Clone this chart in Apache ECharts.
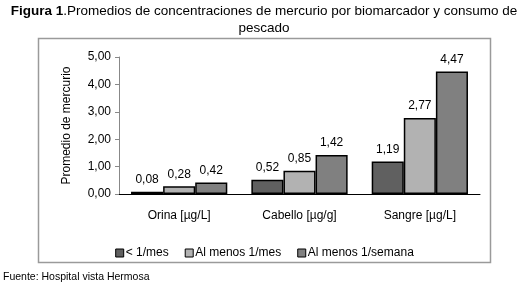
<!DOCTYPE html>
<html>
<head>
<meta charset="utf-8">
<script src="https://cdn.jsdelivr.net/npm/echarts@6/dist/echarts.min.js"></script>
<style>
  html, body { margin: 0; padding: 0; background: #fff; }
  #bar { width: 529px; height: 292px; }
</style>
</head>
<body>
<div id="bar"></div>
<script>
// datos
var categorias = ['Orina [µg/L]', 'Cabello [µg/g]', 'Sangre [µg/L]'];
var series = ['< 1/mes', 'Al menos 1/mes', 'Al menos 1/semana'];
var menosMes = [0.08, 0.52, 1.19];
var alMenosMes = [0.28, 0.85, 2.77];
var alMenosSemana = [0.42, 1.42, 4.47];
var colores = ['#606060', '#b2b2b2', '#808080'];

function coma (v) {
  return v.toFixed(2).replace('.', ',');
}

// 1. 实例化对象
const myChart = echarts.init(document.getElementById('bar'));
const fuente = 'Liberation Sans, Arial, sans-serif';

function serie (nombre, datos, idx) {
  return {
    name: nombre,
    type: 'bar',
    barGap: '0%',
    barCategoryGap: '20%',
    data: datos,
    itemStyle: {
      color: colores[idx],
      borderColor: '#000',
      borderWidth: 1.5
    },
    label: {
      show: true,
      position: 'top',
      distance: 6,
      color: '#000',
      fontSize: 12,
      fontFamily: fuente,
      formatter: function (p) { return coma(p.value); }
    }
  };
}

// 2.指定配置
const option = {
  animation: false,
  textStyle: { fontFamily: fuente },
  graphic: [
    {
      type: 'text',
      x: 264,
      y: 3,
      style: {
        text: '{b|Figura 1}.Promedios de concentraciones de mercurio por biomarcador y consumo de\npescado',
        align: 'center',
        fontSize: 13.5,
        lineHeight: 17,
        fill: '#000',
        fontFamily: fuente,
        rich: {
          b: { fontWeight: 'bold', fontSize: 13.5, fontFamily: fuente, fill: '#000' }
        }
      }
    },
    {
      type: 'rect',
      shape: { x: 38.5, y: 38.5, width: 452, height: 224 },
      style: { fill: 'none', stroke: '#9a9a9a', lineWidth: 1.5 },
      silent: true
    },
    {
      type: 'text',
      left: 3,
      top: 272,
      style: { text: 'Fuente: Hospital vista Hermosa', fontSize: 10.5, fill: '#000', fontFamily: fuente }
    }
  ],
  legend: {
    data: series,
    top: 242,
    left: 'center',
    itemWidth: 8,
    itemHeight: 8,
    itemGap: 16,
    icon: 'rect',
    textStyle: { fontSize: 12, color: '#000', fontFamily: fuente, padding: [0, 0, 0, -3] },
    itemStyle: { borderColor: '#000', borderWidth: 1 }
  },
  grid: {
    left: 119,
    right: 49,
    top: 57,
    bottom: 98,
    containLabel: false
  },
  xAxis: {
    type: 'category',
    data: categorias,
    axisLine: { show: true, lineStyle: { color: '#000', width: 1 } },
    axisTick: { show: false },
    axisLabel: { color: '#000', fontSize: 12, margin: 16, fontFamily: fuente },
    splitLine: { show: false }
  },
  yAxis: {
    type: 'value',
    min: 0,
    max: 5,
    interval: 1,
    name: 'Promedio de mercurio',
    nameLocation: 'middle',
    nameGap: 46,
    nameTextStyle: { color: '#000', fontSize: 12, fontFamily: fuente },
    axisLine: { show: true, lineStyle: { color: '#888' } },
    axisTick: { show: true, inside: false, length: 4, lineStyle: { color: '#888' } },
    splitLine: { show: false },
    axisLabel: {
      color: '#000',
      fontSize: 12,
      margin: 8,
      fontFamily: fuente,
      formatter: function (v) { return coma(v); }
    }
  },
  series: [
    serie(series[0], menosMes, 0),
    serie(series[1], alMenosMes, 1),
    serie(series[2], alMenosSemana, 2)
  ]
};
// 3. 把配置给实例对象
myChart.setOption(option);
</script>
</body>
</html>
